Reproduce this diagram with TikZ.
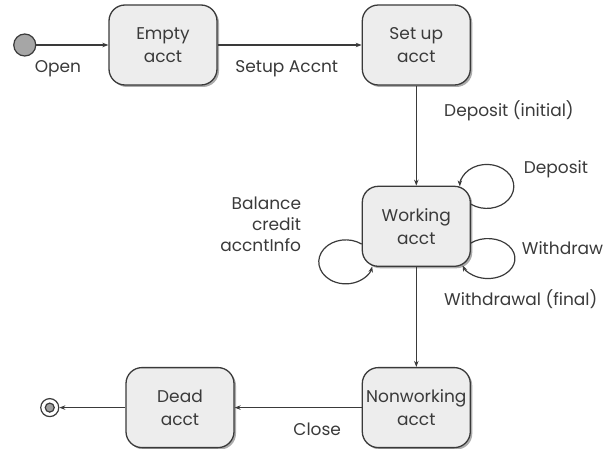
\documentclass[tikz,border=0pt]{standalone}
\usepackage{fontspec}
\setmainfont{Poppins}
\usetikzlibrary{positioning,arrows.meta,shadows}
\definecolor{ink}{HTML}{3A3A3A}

\begin{document}
\begin{tikzpicture}[x=1pt, y=1pt, >={Stealth[length=6pt,width=4.5pt]}, line width=1.2pt, draw=ink, text=ink,
  state/.style = {draw=ink, line width=1.3pt, rounded corners=16pt, fill=gray!14, minimum width=108pt, minimum height=80pt, align=center, font=\fontsize{17}{23}\selectfont, general shadow={fill=gray!65, shadow xshift=2pt, shadow yshift=-2pt}},
  lbl/.style = {font=\fontsize{17}{21}\selectfont, text=ink}]
\useasboundingbox (0,0) rectangle (611,448);
\node[state] (empty) at (163,403) {Empty\\acct};
\node[state] (setup) [right=144pt of empty] {Set up\\acct};
\node[state] (work) [below=100pt of setup] {Working\\acct};
\node[state] (nonwork) [below=100pt of work] {Nonworking\\acct};
\node[state] (dead) [left=127pt of nonwork] {Dead\\acct};
\node[draw=ink, circle, fill=gray!70, minimum size=22pt, inner sep=0pt] (init) [left=72pt of empty] {};
\node[draw=ink, circle, minimum size=18pt, inner sep=0pt] (final) [left=66pt of dead] {};
\node[circle, fill=gray!75, draw=ink, minimum size=9pt, inner sep=0pt] (finaldot) at (final) {};
\draw[->, ink] (init) -- node[midway,below,pos=0.3,lbl,yshift=-12pt] {Open} (empty);
\draw[->, ink] (empty) -- node[midway,below,pos=0.48,lbl,yshift=-12pt] {Setup Accnt} (setup);
\draw[->, ink] (setup) -- node[midway,right,pos=0.25,lbl,xshift=24pt] {Deposit (initial)} (work);
\draw[->, ink] (work) -- node[midway,right,pos=0.32,lbl,xshift=24pt] {Withdrawal (final)} (nonwork);
\draw[->, ink] (nonwork) -- node[midway,below,pos=0.35,lbl,yshift=-11pt] {Close} (dead);
\draw[->, ink] (dead) -- (final);
\draw[->, ink] (work.22) arc[start angle=234, end angle=540, x radius=27, y radius=22];
\draw[->, ink] (work.-17) arc[start angle=129, end angle=-160, x radius=27, y radius=20];
\draw[->, ink] (work.198) arc[start angle=54, end angle=348, x radius=27, y radius=22];
\node[lbl] (deplbl) at (556,279) {Deposit};
\node[lbl, anchor=west] (wdlbl) at (518,200) {Withdraw};
\node[lbl, align=right, anchor=east] (ballbl) at (305,224) {Balance\\credit\\accntInfo};
\end{tikzpicture}
\end{document}
